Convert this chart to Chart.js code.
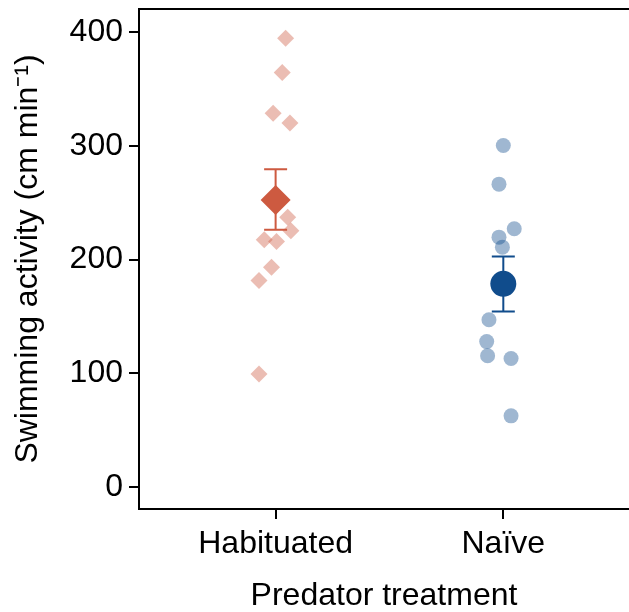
<!DOCTYPE html>
<html>
<head>
<meta charset="utf-8">
<script src="https://cdn.jsdelivr.net/npm/chart.js@4/dist/chart.umd.min.js"></script>
<style>
  html, body { margin: 0; padding: 0; background: #fff; }
  #wrap { width: 629px; height: 612px; position: relative; }
</style>
</head>
<body>
<div id="wrap"><canvas id="c"></canvas></div>
<script>
const categories = ["Habituated", "Naïve"];

const habituatedValues = [394.4, 364.2, 328.5, 319.8, 237.2, 225.2, 217.3, 215.8, 193.3, 181.6, 99.6];
const habituatedJitter = [0.044, 0.029, -0.011, 0.063, 0.053, 0.067, -0.05, 0.004, -0.018, -0.073, -0.073];
const naiveValues = [300.1, 266.2, 227, 219.7, 210.9, 147.1, 128, 115.5, 113.1, 62.8];
const naiveJitter = [0.0, -0.019, 0.048, -0.019, -0.004, -0.063, -0.073, -0.069, 0.034, 0.034];

// group means with error bars
const means = [252.4, 178.7];
const errLow = [226.1, 154.3];
const errHigh = [279.4, 202.6];

const yTicks = [0, 100, 200, 300, 400];

const FONT = "'Liberation Sans', Arial, sans-serif";
const RED = "#cd5a40";
const BLUE = "#104c8c";

const toPoints = (vals, jit, pos) => vals.map((v, i) => ({ x: pos + jit[i], y: v }));

const errorBars = {
  id: "errorBars",
  afterDatasetDraw(chart, args) {
    if (args.index !== 2) return;
    const { ctx, scales } = chart;
    const colors = [RED, BLUE];
    ctx.save();
    ctx.lineWidth = 2;
    means.forEach((m, i) => {
      const x = scales.x.getPixelForValue(i + 1);
      const yl = scales.y.getPixelForValue(errLow[i]);
      const yh = scales.y.getPixelForValue(errHigh[i]);
      ctx.strokeStyle = colors[i];
      ctx.beginPath();
      ctx.moveTo(x, yl); ctx.lineTo(x, yh);
      ctx.moveTo(x - 11.5, yl); ctx.lineTo(x + 11.5, yl);
      ctx.moveTo(x - 11.5, yh); ctx.lineTo(x + 11.5, yh);
      ctx.stroke();
    });
    ctx.restore();
  },
};

const topBorder = {
  id: "topBorder",
  afterDraw(chart) {
    const { ctx, chartArea } = chart;
    ctx.save();
    ctx.strokeStyle = "#000";
    ctx.lineWidth = 2;
    ctx.beginPath();
    ctx.moveTo(chartArea.left - 1, chartArea.top);
    ctx.lineTo(chartArea.right, chartArea.top);
    ctx.stroke();
    ctx.restore();
  },
};

new Chart(document.getElementById("c"), {
  type: "scatter",
  data: {
    datasets: [
      {
        label: "Habituated mean",
        data: [{ x: 1, y: means[0] }],
        pointStyle: "rectRot",
        pointRadius: 15,
        backgroundColor: RED,
        borderWidth: 0,
      },
      {
        label: "Naïve mean",
        data: [{ x: 2, y: means[1] }],
        pointStyle: "circle",
        pointRadius: 13,
        backgroundColor: BLUE,
        borderWidth: 0,
      },
      {
        label: "Habituated",
        data: toPoints(habituatedValues, habituatedJitter, 1),
        pointStyle: "rectRot",
        pointRadius: 8.5,
        backgroundColor: "rgba(205,90,64,0.4)",
        borderWidth: 0,
      },
      {
        label: "Naïve",
        data: toPoints(naiveValues, naiveJitter, 2),
        pointStyle: "circle",
        pointRadius: 7.5,
        backgroundColor: "rgba(16,76,140,0.4)",
        borderWidth: 0,
      },
    ],
  },
  options: {
    responsive: true,
    maintainAspectRatio: false,
    animation: false,
    layout: { autoPadding: false, padding: { top: 9, right: 0, left: 0, bottom: 0 } },
    plugins: { legend: { display: false }, tooltip: { enabled: false } },
    scales: {
      x: {
        type: "linear",
        min: 0.4,
        max: 2.552,
        afterBuildTicks: (s) => { s.ticks = [{ value: 1 }, { value: 2 }]; },
        afterFit: (s) => { s.height = 103; s.paddingLeft = 0; s.paddingRight = 0; },
        ticks: {
          callback: (v) => categories[v - 1],
          color: "#000",
          font: { family: FONT, size: 32 },
          padding: 6,
          maxRotation: 0,
        },
        grid: { drawOnChartArea: false, drawTicks: true, tickLength: 10, color: "#000", lineWidth: 2 },
        border: { color: "#000", width: 2 },
        title: {
          display: true,
          text: "Predator treatment",
          color: "#000",
          font: { family: FONT, size: 32 },
          padding: { top: 0, bottom: -3 },
        },
      },
      y: {
        min: -19,
        max: 420,
        afterBuildTicks: (s) => { s.ticks = yTicks.map((v) => ({ value: v })); },
        afterFit: (s) => { s.width = 139; s.paddingTop = 0; s.paddingBottom = 0; },
        ticks: {
          color: "#000",
          font: { family: FONT, size: 32 },
          padding: 6,
        },
        grid: { drawOnChartArea: false, drawTicks: true, tickLength: 10, color: "#000", lineWidth: 2 },
        border: { color: "#000", width: 2 },
        title: {
          display: true,
          text: "Swimming activity (cm min⁻¹)",
          color: "#000",
          font: { family: FONT, size: 32 },
          padding: { top: 9, bottom: 0 },
        },
      },
    },
  },
  plugins: [errorBars, topBorder],
});
</script>
</body>
</html>
